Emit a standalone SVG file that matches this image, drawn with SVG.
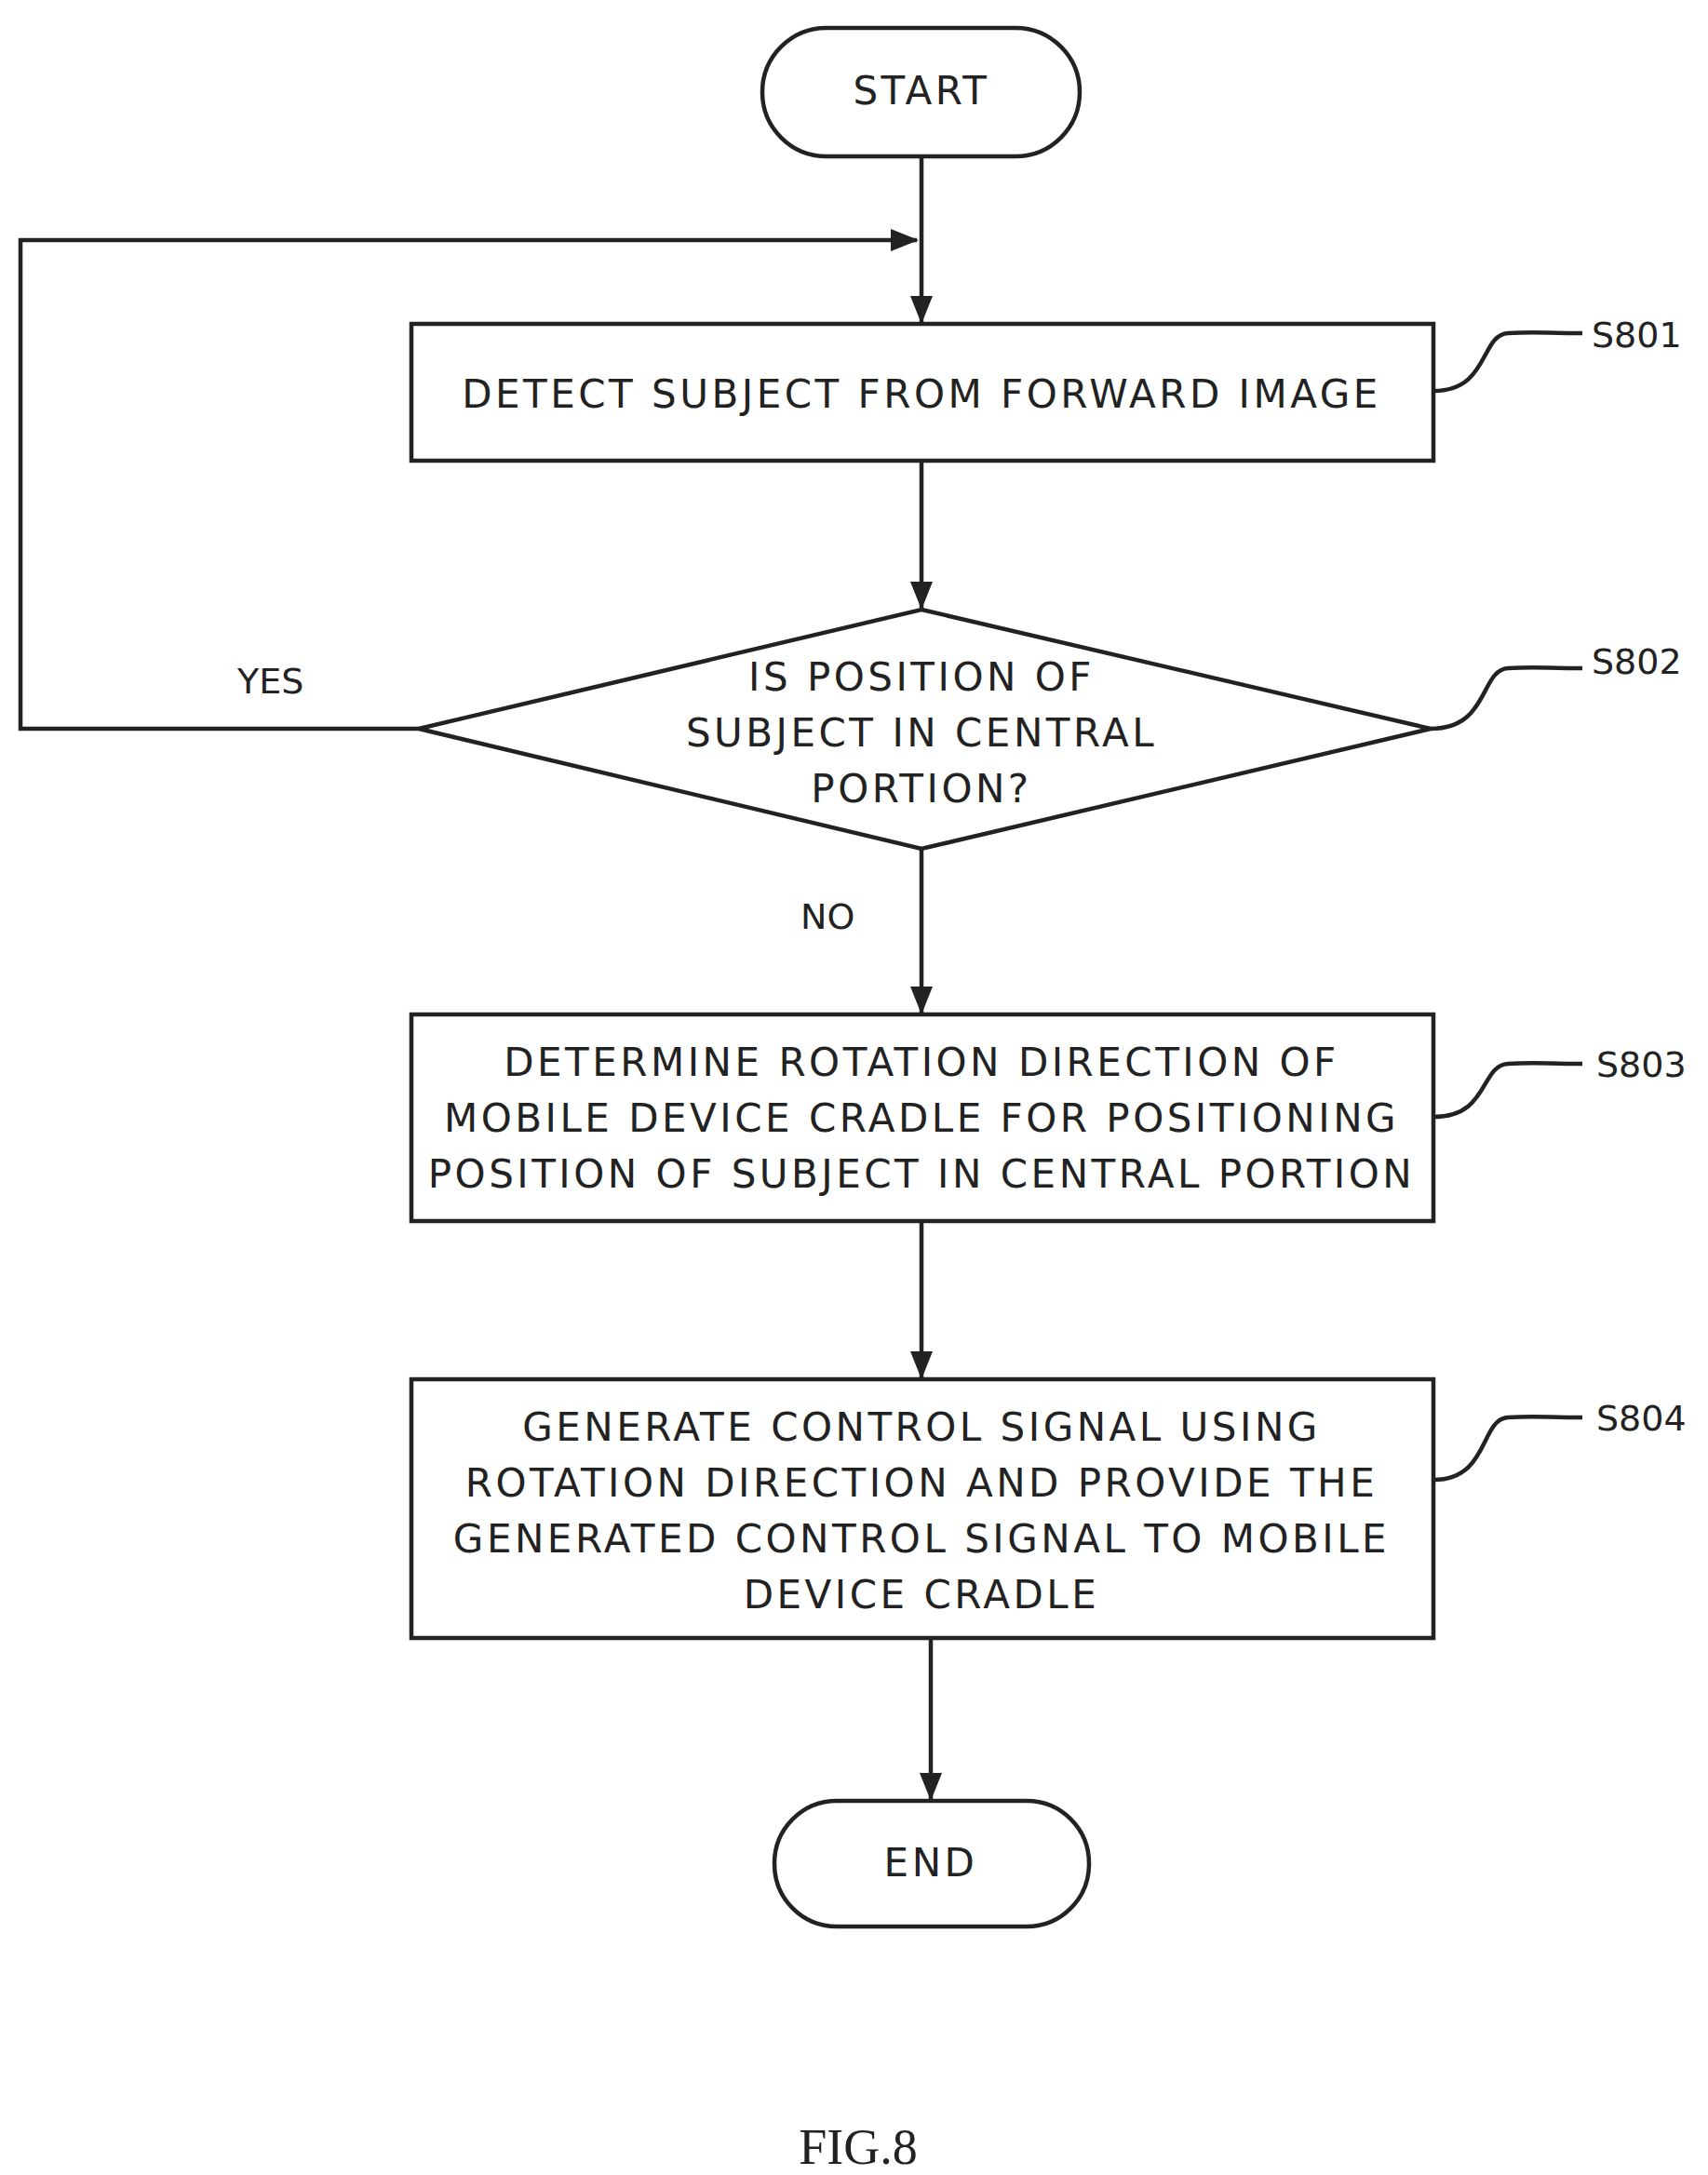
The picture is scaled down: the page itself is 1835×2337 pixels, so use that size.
<svg xmlns="http://www.w3.org/2000/svg" width="1835" height="2337" viewBox="0 0 1835 2337">
<defs>
<style>
.s{fill:none;stroke:#222;stroke-width:4.5}
.t{font-family:"DejaVu Sans","Liberation Sans",sans-serif;font-size:42px;fill:#222;text-anchor:middle;letter-spacing:3.5px}
.l{font-family:"DejaVu Sans","Liberation Sans",sans-serif;font-size:38px;fill:#222}
</style>
<marker id="b" markerWidth="30" markerHeight="30" refX="28" refY="15" orient="auto" markerUnits="userSpaceOnUse" viewBox="0 0 30 30"><path d="M0,3 L30,15 L0,27 z" fill="#222"/></marker>
</defs>
<g id="connectors" class="s">
<path d="M990,168 V346" marker-end="url(#b)"/>
<path d="M450,783 H22 V258 H985" marker-end="url(#b)"/>
<path d="M990,495 V653" marker-end="url(#b)"/>
<path d="M990,912 V1088" marker-end="url(#b)"/>
<path d="M990,1312 V1480" marker-end="url(#b)"/>
<path d="M1000,1760 V1933" marker-end="url(#b)"/>
<path d="M1540,420 C1600,420 1590,360 1620,358 C1650,356 1660,358 1700,358"/>
<path d="M1537,783 C1600,783 1590,720 1620,718 C1650,716 1660,718 1700,718"/>
<path d="M1540,1200 C1600,1200 1590,1145 1620,1143 C1650,1141 1660,1143 1700,1143"/>
<path d="M1540,1590 C1600,1590 1590,1525 1620,1523 C1650,1521 1660,1523 1700,1523"/>
</g>
<g id="start"><rect class="s" x="819" y="30" width="341" height="138" rx="69"/><text class="t" x="990" y="112">START</text></g>
<g id="s801"><rect class="s" x="442" y="348" width="1098" height="147"/><text class="t" x="990" y="438">DETECT SUBJECT FROM FORWARD IMAGE</text><text class="l" x="1710" y="373">S801</text></g>
<g id="s802"><path class="s" d="M990,655 L1537,783 L990,912 L450,783 Z"/>
<text class="t" x="990" y="742">IS POSITION OF</text><text class="t" x="990" y="802">SUBJECT IN CENTRAL</text><text class="t" x="990" y="862">PORTION?</text>
<text class="l" x="1710" y="724">S802</text><text class="l" x="255" y="745">YES</text><text class="l" x="860" y="998">NO</text></g>
<g id="s803"><rect class="s" x="442" y="1090" width="1098" height="222"/>
<text class="t" x="990" y="1156">DETERMINE ROTATION DIRECTION OF</text><text class="t" x="990" y="1216">MOBILE DEVICE CRADLE FOR POSITIONING</text><text class="t" x="990" y="1276">POSITION OF SUBJECT IN CENTRAL PORTION</text>
<text class="l" x="1715" y="1157">S803</text></g>
<g id="s804"><rect class="s" x="442" y="1482" width="1098" height="278"/>
<text class="t" x="990" y="1548">GENERATE CONTROL SIGNAL USING</text><text class="t" x="990" y="1608">ROTATION DIRECTION AND PROVIDE THE</text><text class="t" x="990" y="1668">GENERATED CONTROL SIGNAL TO MOBILE</text><text class="t" x="990" y="1728">DEVICE CRADLE</text>
<text class="l" x="1715" y="1537">S804</text></g>
<g id="end"><rect class="s" x="832" y="1935" width="338" height="135" rx="67"/><text class="t" x="1000" y="2016">END</text></g>
<text x="922" y="2325" style="font-family:'Liberation Serif',serif;font-size:54px;fill:#222;text-anchor:middle">FIG.8</text>
</svg>
